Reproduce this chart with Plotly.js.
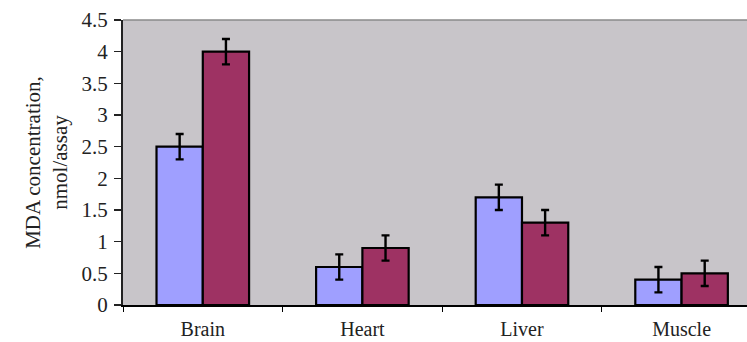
<!DOCTYPE html>
<html>
<head>
<meta charset="utf-8">
<script src="https://cdn.plot.ly/plotly-3.0.1.min.js"></script>
<style>html,body{margin:0;padding:0;background:#fff;}#chart{width:747px;height:342px;}</style>
</head>
<body>
<div id="chart"></div>
<script>
var categories = ["Brain", "Heart", "Liver", "Muscle"];
var series1 = [2.5, 0.6, 1.7, 0.4];
var series1Err = [0.2, 0.2, 0.2, 0.2];
var series2 = [4.0, 0.9, 1.3, 0.5];
var series2Err = [0.2, 0.2, 0.2, 0.2];
var yTicks = [0, 0.5, 1, 1.5, 2, 2.5, 3, 3.5, 4, 4.5];
var yTickLabels = ["0", "0.5", "1", "1.5", "2", "2.5", "3", "3.5", "4", "4.5"];

var FAM = "'Liberation Serif', 'Times New Roman', serif";
function f(size) { return {family: FAM, size: size, color: "#222"}; }
function trace(vals, errs, color) {
  return {
    type: "bar", x: categories, y: vals,
    marker: {color: color, line: {color: "#000", width: 2.2}},
    error_y: {type: "data", array: errs, visible: true, color: "#000", thickness: 2.4, width: 4},
    hoverinfo: "none"
  };
}
var data = [trace(series1, series1Err, "#9f9fff"), trace(series2, series2Err, "#9e3263")];
var layout = {
  width: 747, height: 342,
  margin: {l: 123, r: 0, t: 20, b: 37, pad: 0},
  paper_bgcolor: "#fff", plot_bgcolor: "#c8c5c9",
  showlegend: false, barmode: "group", bargap: 0.42, bargroupgap: 0,
  font: f(20),
  xaxis: {
    range: [-0.5, 3.41], showgrid: false, zeroline: false,
    showline: true, linecolor: "#000", linewidth: 2,
    ticks: "outside", tickson: "boundaries", ticklen: 5, tickcolor: "#000", tickwidth: 1,
    tickfont: f(20), ticklabelstandoff: 5, fixedrange: true
  },
  yaxis: {
    range: [0, 4.5], tickvals: yTicks, ticktext: yTickLabels,
    showgrid: false, zeroline: false,
    showline: true, linecolor: "#222", linewidth: 2,
    ticks: "outside", ticklen: 7, tickcolor: "#222", tickwidth: 1.5,
    tickfont: f(21), ticklabelstandoff: 2,
    title: {text: "MDA concentration,<br>nmol/assay", font: f(21), standoff: 8}
  },
  shapes: [{type: "line", xref: "paper", yref: "paper", x0: 0, x1: 1, y0: 1, y1: 1,
            line: {color: "#8a8a8a", width: 1.5}}]
};
Plotly.newPlot("chart", data, layout, {staticPlot: true, displayModeBar: false});
</script>
</body>
</html>
